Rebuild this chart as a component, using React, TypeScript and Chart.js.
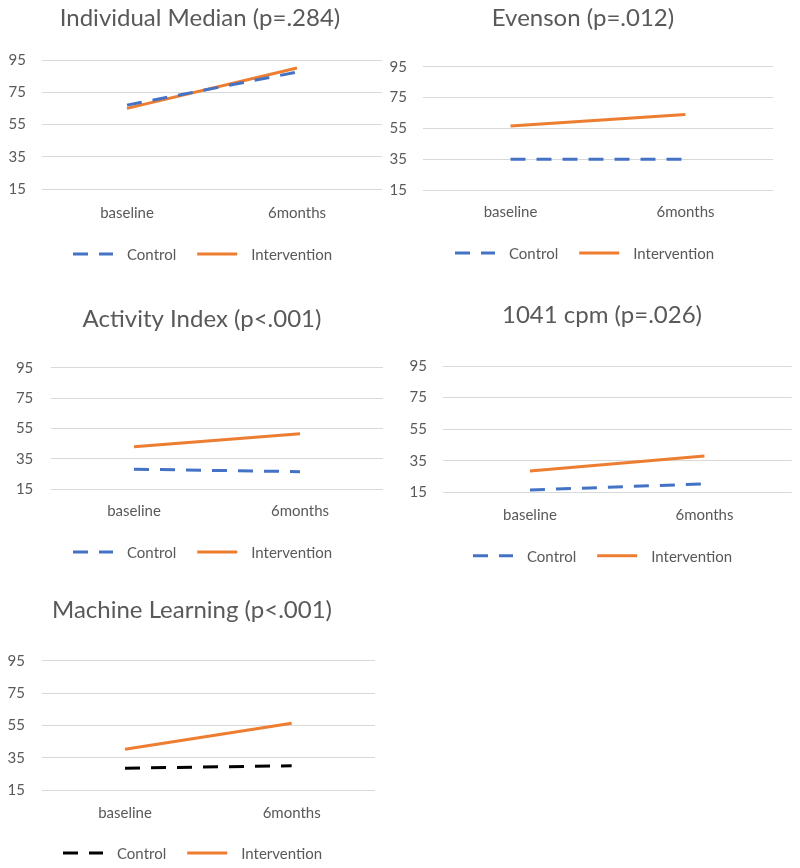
import React, { useEffect, useRef } from "react";
import { Chart, registerables } from "chart.js";

Chart.register(...registerables);

// ---------- data ----------
const categories = ["baseline", "6months"];
const yTicks = [15, 35, 55, 75, 95];
const seriesNames = ["Control", "Intervention"];

const medianControl = [67, 87.5];
const medianIntervention = [65, 90];

const evensonControl = [35, 35];
const evensonIntervention = [56.5, 64];

const activityControl = [28.2, 26.6];
const activityIntervention = [43, 51.5];

const cpmControl = [16.5, 20.3];
const cpmIntervention = [28.5, 38];

const mlControl = [28.5, 30];
const mlIntervention = [40.2, 56.3];

const titles = [
  "Individual Median (p=.284)",
  "Evenson (p=.012)",
  "Activity Index (p<.001)",
  "1041 cpm (p=.026)",
  "Machine Learning (p<.001)",
];

// ---------- styles ----------
const BLUE = "#4472C4";
const ORANGE = "#ED7D31";
const BLACK = "#000000";
const TEXT = "#595959";
const GRID = "#D9D9D9";
const FONT = "Lato, Carlito, 'Open Sans', sans-serif";
const TITLE_SIZE = 24;
const LABEL_SIZE = 15;
const DASH = [15, 11];

type Layout = {
  canvas: { x: number; y: number; w: number; h: number };
  area: { l: number; t: number; r: number; b: number };
  titleX: number;
  titleY: number;
  xLabelY: number;
  yLabelRight: number;
  legendX: number;
  legendY: number;
};

const layouts: Layout[] = [
  { canvas: { x: 0, y: 0, w: 395, h: 285 }, area: { l: 42, t: 60, r: 382, b: 189 }, titleX: 200, titleY: 18, xLabelY: 213, yLabelRight: 26, legendX: 73, legendY: 254 },
  { canvas: { x: 380, y: 0, w: 420, h: 285 }, area: { l: 423, t: 66.7, r: 773, b: 190 }, titleX: 583, titleY: 18, xLabelY: 212.3, yLabelRight: 407, legendX: 455, legendY: 253 },
  { canvas: { x: 0, y: 290, w: 395, h: 290 }, area: { l: 51, t: 367.7, r: 383, b: 489.3 }, titleX: 202, titleY: 319, xLabelY: 510.7, yLabelRight: 33.3, legendX: 73, legendY: 552 },
  { canvas: { x: 380, y: 290, w: 420, h: 290 }, area: { l: 442.7, t: 366, r: 791.7, b: 492.3 }, titleX: 602, titleY: 315, xLabelY: 515, yLabelRight: 427, legendX: 473, legendY: 555.7 },
  { canvas: { x: 0, y: 590, w: 395, h: 278 }, area: { l: 41.7, t: 660.7, r: 375, b: 790 }, titleX: 192, titleY: 610.7, xLabelY: 812.7, yLabelRight: 25, legendX: 63, legendY: 853 },
];

const seriesSets = [
  { control: medianControl, intervention: medianIntervention, controlColor: BLUE },
  { control: evensonControl, intervention: evensonIntervention, controlColor: BLUE },
  { control: activityControl, intervention: activityIntervention, controlColor: BLUE },
  { control: cpmControl, intervention: cpmIntervention, controlColor: BLUE },
  { control: mlControl, intervention: mlIntervention, controlColor: BLACK },
];

// title drawn at an exact position
const placedTitle = {
  id: "placedTitle",
  afterDraw(chart: any, _args: any, opts: any) {
    if (!opts || !opts.text) return;
    const ctx = chart.ctx;
    ctx.save();
    ctx.font = `${TITLE_SIZE}px ${FONT}`;
    ctx.fillStyle = TEXT;
    ctx.textAlign = "center";
    ctx.textBaseline = "middle";
    ctx.fillText(opts.text, opts.x, opts.y);
    ctx.restore();
  },
};

// custom line-style legend
const lineLegend = {
  id: "lineLegend",
  afterDraw(chart: any, _args: any, opts: any) {
    if (!opts || opts.x == null) return;
    const ctx = chart.ctx;
    ctx.save();
    ctx.font = `${LABEL_SIZE}px ${FONT}`;
    ctx.textBaseline = "middle";
    ctx.textAlign = "left";
    let x = opts.x;
    const y = opts.y;
    chart.data.datasets.forEach((ds: any) => {
      ctx.beginPath();
      ctx.setLineDash(ds.borderDash || []);
      ctx.lineWidth = ds.borderWidth;
      ctx.strokeStyle = ds.borderColor;
      ctx.lineCap = "butt";
      ctx.moveTo(x, y);
      ctx.lineTo(x + 40, y);
      ctx.stroke();
      ctx.setLineDash([]);
      x += 40 + 14;
      ctx.fillStyle = TEXT;
      ctx.fillText(ds.label, x, y + 1);
      x += ctx.measureText(ds.label).width + 21;
    });
    ctx.restore();
  },
};

function SmallChart({ index }: { index: number }) {
  const ref = useRef<HTMLCanvasElement | null>(null);
  const L = layouts[index];
  const S = seriesSets[index];

  useEffect(() => {
    if (!ref.current) return;
    const c = L.canvas;
    const labelLH = LABEL_SIZE * 1.2;
    const padR = c.x + c.w - L.area.r;
    const yWidth = L.area.l - c.x;
    const padTop = L.area.t - c.y;
    const xAxisBottom = L.legendY - 15;
    const xHeight = xAxisBottom - L.area.b;
    const padBottom = c.y + c.h - xAxisBottom;

    const chart = new Chart(ref.current, {
      type: "line",
      data: {
        labels: categories,
        datasets: [
          {
            label: seriesNames[0],
            data: S.control,
            borderColor: S.controlColor,
            backgroundColor: S.controlColor,
            borderWidth: 3,
            borderDash: DASH,
            pointRadius: 0,
            fill: false,
            tension: 0,
          },
          {
            label: seriesNames[1],
            data: S.intervention,
            borderColor: ORANGE,
            backgroundColor: ORANGE,
            borderWidth: 3,
            pointRadius: 0,
            fill: false,
            tension: 0,
          },
        ],
      },
      options: {
        responsive: false,
        animation: false,
        layout: { padding: { left: 0, right: padR, top: padTop, bottom: padBottom } },
        plugins: {
          legend: { display: false },
          tooltip: { enabled: false },
          title: { display: false },
          placedTitle: { text: titles[index], x: L.titleX - c.x, y: L.titleY - c.y },
          lineLegend: { x: L.legendX - c.x, y: L.legendY - c.y },
        } as any,
        scales: {
          x: {
            type: "category",
            offset: true,
            grid: { display: false, drawTicks: false },
            border: { display: false },
            ticks: {
              color: TEXT,
              font: { family: FONT, size: LABEL_SIZE, lineHeight: 1.2 },
              padding: L.xLabelY - L.area.b - labelLH / 2,
              maxRotation: 0,
              autoSkip: false,
            },
            afterFit: (s: any) => {
              s.height = xHeight;
            },
          },
          y: {
            type: "linear",
            min: yTicks[0],
            max: yTicks[yTicks.length - 1],
            grid: { color: GRID, lineWidth: 1, drawTicks: false },
            border: { display: false },
            ticks: {
              color: TEXT,
              font: { family: FONT, size: LABEL_SIZE, lineHeight: 1.2 },
              padding: L.area.l - L.yLabelRight,
            },
            afterBuildTicks: (s: any) => {
              s.ticks = yTicks.map((v) => ({ value: v }));
            },
            afterFit: (s: any) => {
              s.width = yWidth;
            },
          },
        },
      },
      plugins: [placedTitle as any, lineLegend as any],
    });
    return () => chart.destroy();
  }, [index]);

  const c = L.canvas;
  return (
    <canvas
      ref={ref}
      width={c.w}
      height={c.h}
      style={{ position: "absolute", left: c.x, top: c.y, width: c.w, height: c.h }}
    />
  );
}

export default function App() {
  return (
    <div style={{ position: "absolute", left: 0, top: 0, width: 800, height: 868, background: "#ffffff", overflow: "hidden" }}>
      {layouts.map((_, i) => (
        <SmallChart key={i} index={i} />
      ))}
    </div>
  );
}
